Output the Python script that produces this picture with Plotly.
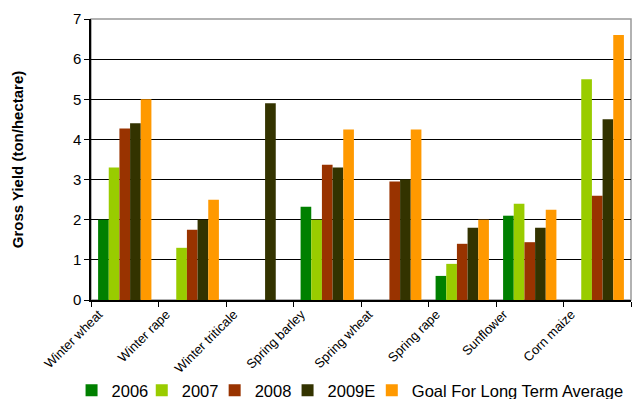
import plotly.graph_objects as go

categories = ["Winter wheat", "Winter rape", "Winter triticale", "Spring barley",
              "Spring wheat", "Spring rape", "Sunflower", "Corn maize"]
y2006 = [2.0, None, None, 2.32, None, 0.6, 2.1, None]
y2007 = [3.3, 1.3, None, 2.0, None, 0.9, 2.4, 5.5]
y2008 = [4.27, 1.75, None, 3.37, 2.95, 1.4, 1.44, 2.6]
y2009 = [4.4, 2.0, 4.9, 3.3, 3.0, 1.8, 1.8, 4.5]
goal = [5.0, 2.5, None, 4.25, 4.25, 2.0, 2.25, 6.6]

series = [("2006", y2006, "#008000"), ("2007", y2007, "#99CC00"),
          ("2008", y2008, "#993300"), ("2009E", y2009, "#333300"),
          ("Goal For Long Term Average", goal, "#FF9900")]

# legend entry left edges (paper fraction of plot width)
legend_x = [-0.036, 0.094, 0.229, 0.364, 0.52]
legend_ids = ["legend", "legend2", "legend3", "legend4", "legend5"]

fig = go.Figure()
for (name, vals, col), lid in zip(series, legend_ids):
    fig.add_trace(go.Bar(x=categories, y=vals, name=name, marker_color=col,
                         marker_line_width=0, legend=lid))

layout_legends = {}
for lid, lx in zip(legend_ids, legend_x):
    layout_legends[lid] = dict(orientation="h", x=lx, xanchor="left", y=-0.322,
                               yanchor="middle", font=dict(size=16.5), itemwidth=30,
                               bgcolor="rgba(0,0,0,0)", borderwidth=0)

fig.update_layout(
    width=633, height=399,
    margin=dict(l=91, r=2, t=19, b=99, autoexpand=False),
    paper_bgcolor="white", plot_bgcolor="white",
    barmode="group", bargap=0.21, bargroupgap=0,
    font=dict(family="Liberation Sans, Arial", color="black"),
    showlegend=True,
    shapes=[dict(type="rect", xref="paper", yref="paper", x0=0, x1=1, y0=0, y1=1,
                 line=dict(color="#999999", width=1.5), layer="below")],
    **layout_legends,
)
fig.update_xaxes(showline=True, linecolor="black", linewidth=1.5,
                 ticks="outside", tickcolor="black", ticklen=5,
                 tickson="boundaries", tickangle=-45, automargin=False,
                 ticklabelshift=-26,
                 tickfont=dict(size=13), showgrid=False)
fig.update_yaxes(range=[0, 7], dtick=1, showline=True, linecolor="black", linewidth=1.5,
                 ticks="outside", tickcolor="black", ticklen=5, automargin=False,
                 showgrid=True, gridcolor="black", gridwidth=1,
                 tickfont=dict(size=15), zeroline=False,
                 title=dict(text="<b>Gross Yield (ton/hectare)</b>", font=dict(size=15),
                            standoff=46))
fig.write_html("out.html")
